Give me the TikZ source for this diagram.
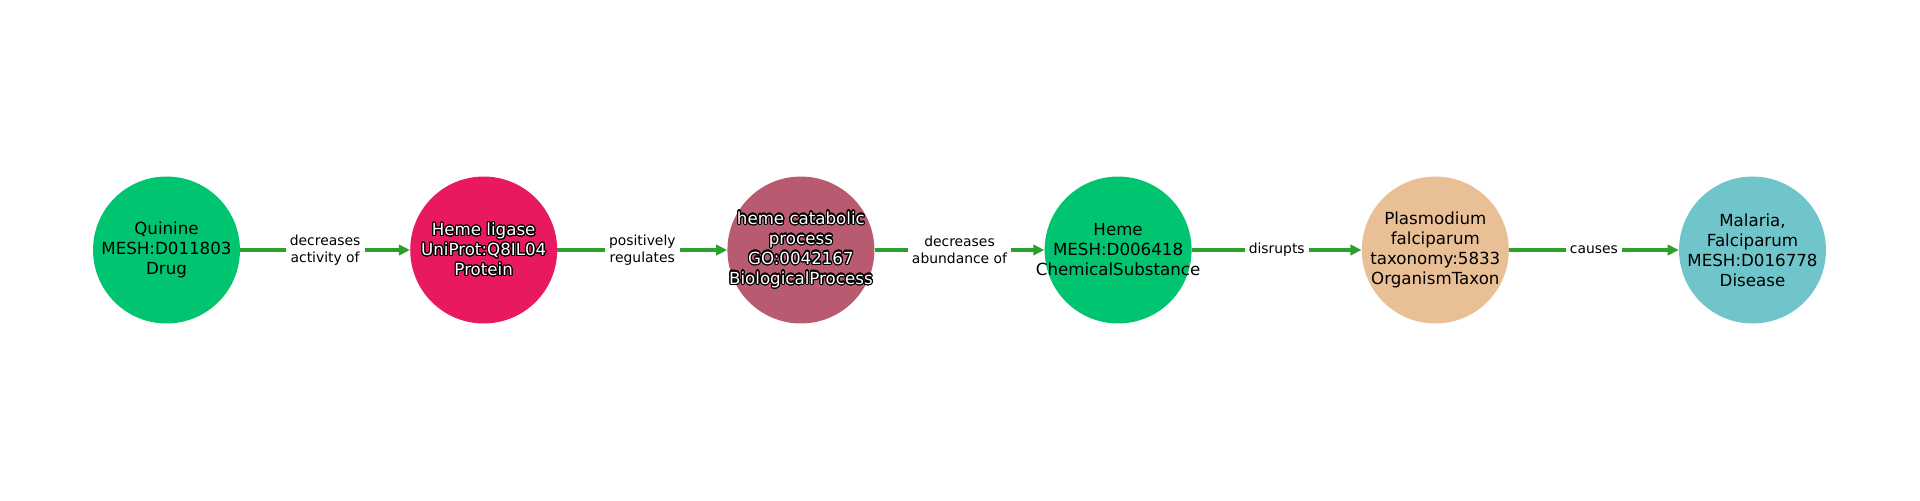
\documentclass[tikz,border=0pt]{standalone}
\usepackage{fontspec}
\setmainfont{DejaVu Sans}
\usepackage{contour}
\contourlength{0.8pt}
\contournumber{24}
\usetikzlibrary{arrows.meta}
\definecolor{cdrug}{HTML}{00C46F}
\definecolor{cprot}{HTML}{E81961}
\definecolor{cproc}{HTML}{B85A70}
\definecolor{corg}{HTML}{E9BF96}
\definecolor{cdis}{HTML}{6FC5CA}
\definecolor{cedge}{HTML}{2CA02C}
\newcommand{\wt}[1]{\contour{black}{\textcolor{white}{#1}}}
\begin{document}
\begin{tikzpicture}[x=0.72pt,y=-0.72pt,
  ent/.style={circle,minimum size=105.8pt,inner sep=0pt},
  txt/.style={inner sep=0pt,align=center,font=\fontsize{12}{14.4}\selectfont},
  rel/.style={draw=cedge,line width=2.4pt,-{Triangle[length=8pt,width=7.5pt]}},
  lbl/.style={fill=white,inner sep=3pt,align=center,
    font=\fontsize{10}{12}\selectfont}]
\useasboundingbox (0,0) rectangle (1920,500);
\node[ent,fill=cdrug] (n1) at (166.5,250) {};
\node[ent,fill=cprot] (n2) at (483.7,250) {};
\node[ent,fill=cproc] (n3) at (800.9,250) {};
\node[ent,fill=cdrug] (n4) at (1118.1,250) {};
\node[ent,fill=corg] (n5) at (1435.3,250) {};
\node[ent,fill=cdis] (n6) at (1752.5,250) {};
\node[txt] (t1) at (n1) {Quinine\\MESH:D011803\\Drug};
\node[txt] (t2) at (n2) {\wt{Heme ligase}\\\wt{UniProt:Q8IL04}\\\wt{Protein}};
\node[txt] (t3) at (n3) {\wt{heme catabolic}\\\wt{process}\\\wt{GO:0042167}\\\wt{BiologicalProcess}};
\node[txt] (t4) at (n4) {Heme\\MESH:D006418\\ChemicalSubstance};
\node[txt] (t5) at (n5) {Plasmodium\\falciparum\\taxonomy:5833\\OrganismTaxon};
\node[txt] (t6) at (n6) {Malaria,\\Falciparum\\MESH:D016778\\Disease};
\draw[rel] (n1) -- node[lbl]{decreases\\activity of} (n2);
\draw[rel] (n2) -- node[lbl]{positively\\regulates} (n3);
\draw[rel] (n3) -- node[lbl]{decreases\\abundance of} (n4);
\draw[rel] (n4) -- node[lbl]{disrupts} (n5);
\draw[rel] (n5) -- node[lbl]{causes} (n6);
\end{tikzpicture}
\end{document}
